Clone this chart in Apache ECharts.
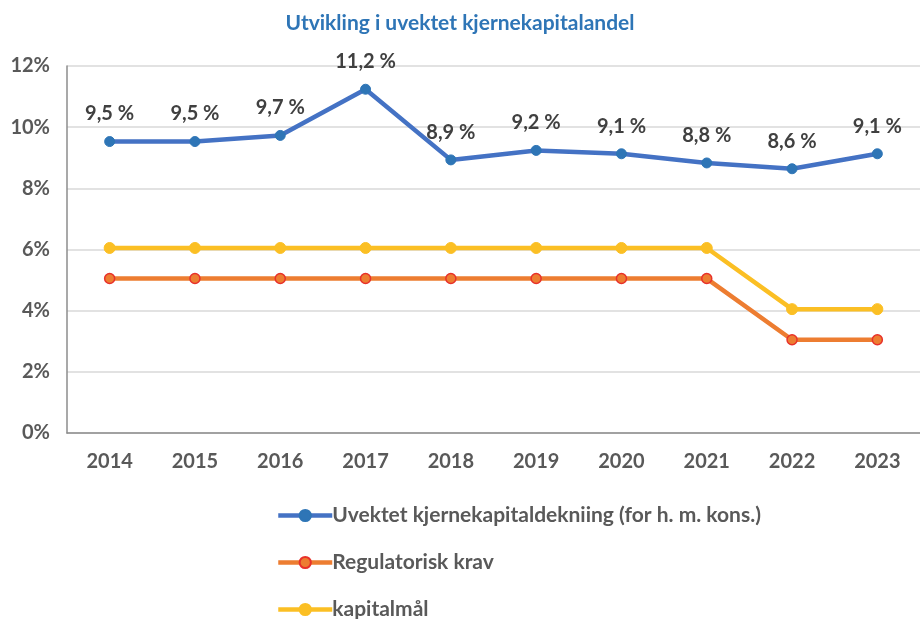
<!DOCTYPE html>
<html>
<head>
<meta charset="utf-8">
<script src="https://cdn.jsdelivr.net/npm/echarts@6/dist/echarts.min.js"></script>
<style>
  html, body { margin: 0; padding: 0; background: #fff; }
  #chart { width: 920px; height: 619px; }
</style>
</head>
<body>
<div id="chart"></div>
<script>
var years = ['2014', '2015', '2016', '2017', '2018', '2019', '2020', '2021', '2022', '2023'];
var uvektet = [9.53, 9.53, 9.73, 11.24, 8.93, 9.24, 9.13, 8.83, 8.64, 9.13];
var regKrav = [5.05, 5.05, 5.05, 5.05, 5.05, 5.05, 5.05, 5.05, 3.05, 3.05];
var kapitalmal = [6.05, 6.05, 6.05, 6.05, 6.05, 6.05, 6.05, 6.05, 4.05, 4.05];
var names = ['Uvektet kjernekapitaldekniing (for h. m. kons.)', 'Regulatorisk krav', 'kapitalmål'];

var FONT = 'Lato';
var grey = '#595959';

var myChart = echarts.init(document.getElementById('chart'));

var option = {
    animation: false,
    title: {
        text: 'Utvikling i uvektet kjernekapitalandel',
        left: 'center',
        top: 8,
        textStyle: { color: '#2e75b6', fontFamily: FONT, fontWeight: 'bold', fontSize: 21 }
    },
    legend: {
        orient: 'vertical',
        left: 276,
        top: 505,
        height: 120,
        padding: 0,
        itemWidth: 54,
        itemHeight: 14,
        itemGap: 26,
        lineStyle: { width: 4.5 },
        textStyle: { color: grey, fontFamily: FONT, fontWeight: 'bold', fontSize: 21, padding: [0, 0, 0, -5] },
        data: names
    },
    grid: {
        left: 67,
        top: 66,
        width: 857,
        height: 367
    },
    xAxis: {
        type: 'category',
        data: years,
        boundaryGap: true,
        axisTick: { show: false },
        axisLine: { lineStyle: { color: '#8c8c8c', width: 1.5 } },
        axisLabel: { color: grey, fontFamily: FONT, fontWeight: 'bold', fontSize: 20, margin: 19 }
    },
    yAxis: {
        type: 'value',
        min: 0,
        max: 12,
        interval: 2,
        axisLine: { show: true, lineStyle: { color: '#8c8c8c', width: 1.5 } },
        axisTick: { show: false },
        splitLine: { lineStyle: { color: '#d9d9d9', width: 1.5 } },
        axisLabel: { color: grey, fontFamily: FONT, fontWeight: 'bold', fontSize: 20, margin: 17, formatter: '{value}%' }
    },
    series: [
        {
            name: names[0],
            type: 'line',
            data: uvektet,
            symbol: 'circle',
            symbolSize: 10,
            lineStyle: { color: '#4472c4', width: 4.5 },
            itemStyle: { color: '#2e75b6', borderColor: '#2e75b6', borderWidth: 1 },
            label: {
                show: true,
                position: 'top',
                distance: 12,
                color: '#404040',
                fontFamily: FONT,
                fontWeight: 'bold',
                fontSize: 20,
                formatter: function (p) {
                    return p.value.toFixed(1).replace('.', ',') + ' %';
                }
            },
            z: 4
        },
        {
            name: names[1],
            type: 'line',
            data: regKrav,
            symbol: 'circle',
            symbolSize: 10,
            lineStyle: { color: '#ed7d31', width: 4.5 },
            itemStyle: { color: '#ed7d31', borderColor: '#e8312a', borderWidth: 1.5 },
            z: 2
        },
        {
            name: names[2],
            type: 'line',
            data: kapitalmal,
            symbol: 'circle',
            symbolSize: 11,
            lineStyle: { color: '#fbbf24', width: 4.5 },
            itemStyle: { color: '#fbbf24', borderColor: '#fbbf24', borderWidth: 1 },
            z: 3
        }
    ]
};

myChart.setOption(option);
</script>
</body>
</html>
